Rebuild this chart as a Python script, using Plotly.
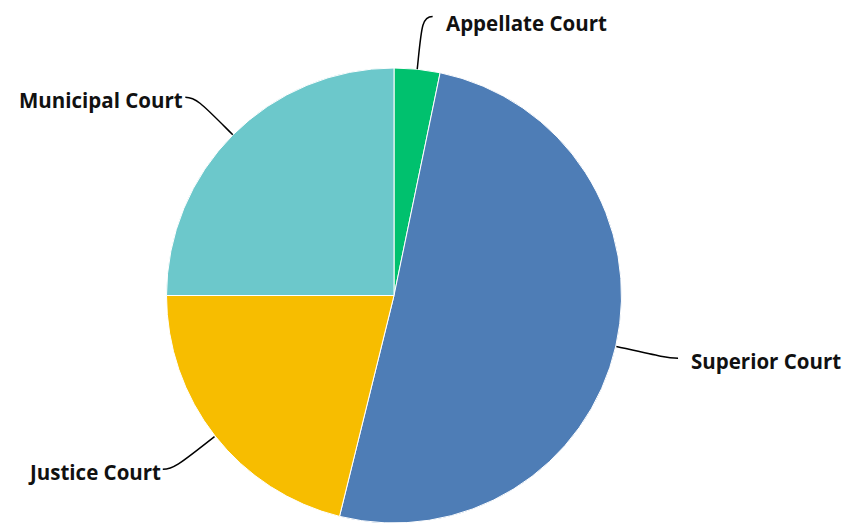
import math
import plotly.graph_objects as go

courts = ["Appellate Court", "Superior Court", "Justice Court", "Municipal Court"]
shares = [3.25, 50.6, 21.15, 25.0]
colors = ["#00c16e", "#4e7db6", "#f7bd00", "#6cc8cb"]

OFF = 8                      # page body margin offset
W, H = 850 - OFF, 523 - OFF  # figure fits the window exactly
CX, CY, R = 394 - OFF, 296 - OFF, 228  # pie geometry in figure pixels (layout)

fig = go.Figure(go.Pie(
    labels=courts, values=shares, sort=False, direction="clockwise", rotation=0,
    marker=dict(colors=colors, line=dict(color="white", width=1)),
    textinfo="none", hoverinfo="label+percent", showlegend=False,
    domain=dict(x=[(CX - R) / W, (CX + R) / W],
                y=[max(0, 1 - (CY + R) / H), 1 - (CY - R) / H]),
))

def px(x):
    return x / W

def py(y):
    return 1 - y / H

total = sum(shares)
cum = 0.0
shapes, annotations = [], []
EXT, HOR = 53, 10
for name, v in zip(courts, shares):
    mid = (cum + v / 2) / total * 2 * math.pi
    cum += v
    dx, dy = math.sin(mid), -math.cos(mid)
    x0, y0 = CX + R * dx, CY + R * dy
    x1, y1 = CX + (R + EXT) * dx, CY + (R + EXT) * dy
    side = 1 if dx >= 0 else -1
    x2, y2 = x1 + side * HOR, y1
    c1x, c1y = CX + (R + EXT * 0.8) * dx, CY + (R + EXT * 0.8) * dy
    c2x, c2y = x1 - side * 1, y1
    path = (f"M {px(x0)},{py(y0)} C {px(c1x)},{py(c1y)} {px(c2x)},{py(c2y)} "
            f"{px(x2)},{py(y2)}")
    shapes.append(dict(type="path", path=path, xref="paper", yref="paper",
                       line=dict(color="black", width=1.5)))
    gap = 11 if side > 0 else 0
    ty = max(y2 + 3, 15)  # keep the label box inside the figure
    annotations.append(dict(
        text=name, x=px(x2 + side * gap), y=py(ty),
        xref="paper", yref="paper", showarrow=False,
        xanchor="left" if side > 0 else "right", yanchor="middle",
        font=dict(family="Open Sans", size=20.5, weight=700, color="#111111"),
    ))

fig.update_layout(
    width=W, height=H, margin=dict(l=0, r=0, t=0, b=0),
    paper_bgcolor="white", plot_bgcolor="white",
    shapes=shapes, annotations=annotations,
)
fig.write_html("out.html")
